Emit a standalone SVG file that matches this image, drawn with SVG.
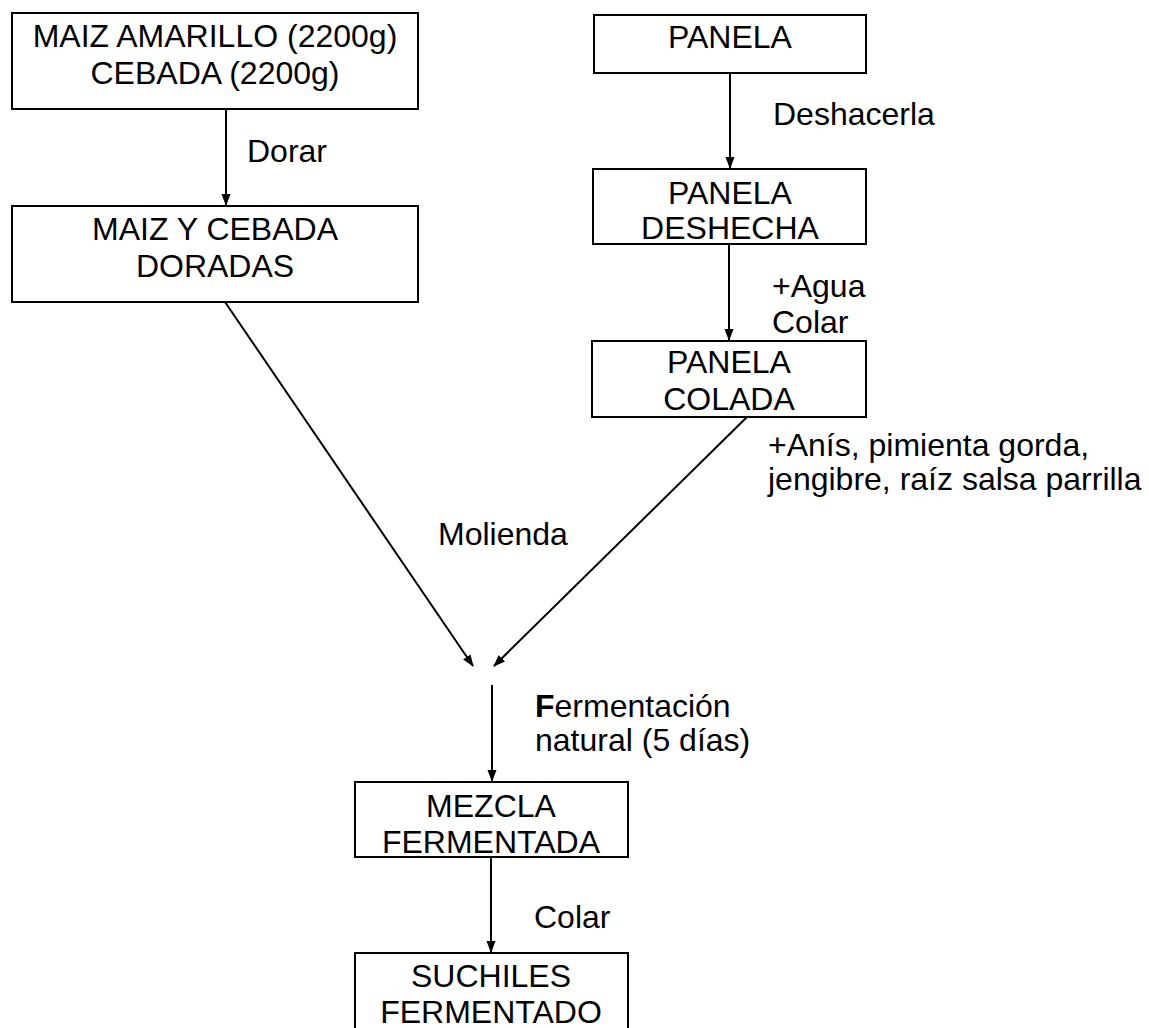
<svg xmlns="http://www.w3.org/2000/svg" width="1149" height="1028" viewBox="0 0 1149 1028">
  <style>
    .box { fill: #fff; stroke: #000; stroke-width: 2; }
    .t { font-family: "Liberation Sans", Arial, sans-serif; font-size: 32px; fill: #000; }
    .c { text-anchor: middle; }
    .edge { fill: none; stroke: #000; stroke-width: 2; }
  </style>
  <defs>
    <marker id="arrow" markerUnits="userSpaceOnUse" markerWidth="12" markerHeight="12" viewBox="0 0 12 12" refX="11" refY="6" orient="auto">
      <path d="M0,1.5 L12,6 L0,10.5 Z" fill="#000"/>
    </marker>
  </defs>
  <rect width="1149" height="1028" fill="#fff"/>

  <g id="connectors">
    <line class="edge" x1="226" y1="110" x2="226" y2="205" marker-end="url(#arrow)"/>
    <line class="edge" x1="730" y1="73" x2="730" y2="168" marker-end="url(#arrow)"/>
    <line class="edge" x1="729" y1="244" x2="729" y2="340" marker-end="url(#arrow)"/>
    <line class="edge" x1="225" y1="302" x2="473" y2="666" marker-end="url(#arrow)"/>
    <line class="edge" x1="747" y1="417" x2="494" y2="666" marker-end="url(#arrow)"/>
    <line class="edge" x1="492" y1="685" x2="492" y2="781" marker-end="url(#arrow)"/>
    <line class="edge" x1="491" y1="857" x2="491" y2="952" marker-end="url(#arrow)"/>
    <text class="t" x="247" y="162">Dorar</text>
    <text class="t" x="773" y="125">Deshacerla</text>
    <text class="t" x="772" y="297">+Agua</text>
    <text class="t" x="772" y="333">Colar</text>
    <text class="t" x="768" y="456">+Anís, pimienta gorda,</text>
    <text class="t" x="768" y="490">jengibre, raíz salsa parrilla</text>
    <text class="t" x="438" y="545">Molienda</text>
    <text class="t" x="535" y="717"><tspan font-weight="bold">F</tspan>ermentación</text>
    <text class="t" x="535" y="751">natural (5 días)</text>
    <text class="t" x="534" y="928">Colar</text>
  </g>

  <g id="maiz-cebada">
    <rect class="box" x="12" y="13" width="406" height="96"/>
    <text class="t c" x="215" y="47">MAIZ AMARILLO (2200g)</text>
    <text class="t c" x="215" y="84">CEBADA (2200g)</text>
  </g>
  <g id="maiz-cebada-doradas">
    <rect class="box" x="12" y="206" width="406" height="96"/>
    <text class="t c" x="215" y="240">MAIZ Y CEBADA</text>
    <text class="t c" x="215" y="277">DORADAS</text>
  </g>
  <g id="panela">
    <rect class="box" x="594" y="15" width="272" height="58"/>
    <text class="t c" x="730" y="48">PANELA</text>
  </g>
  <g id="panela-deshecha">
    <rect class="box" x="593" y="169" width="273" height="75"/>
    <text class="t c" x="730" y="204">PANELA</text>
    <text class="t c" x="730" y="239">DESHECHA</text>
  </g>
  <g id="panela-colada">
    <rect class="box" x="592" y="341" width="274" height="76"/>
    <text class="t c" x="729" y="373">PANELA</text>
    <text class="t c" x="729" y="410">COLADA</text>
  </g>
  <g id="mezcla-fermentada">
    <rect class="box" x="355" y="782" width="273" height="75"/>
    <text class="t c" x="491" y="817">MEZCLA</text>
    <text class="t c" x="491" y="853">FERMENTADA</text>
  </g>
  <g id="suchiles-fermentado">
    <rect class="box" x="355" y="953" width="273" height="90"/>
    <text class="t c" x="491" y="987">SUCHILES</text>
    <text class="t c" x="491" y="1023">FERMENTADO</text>
  </g>
</svg>
